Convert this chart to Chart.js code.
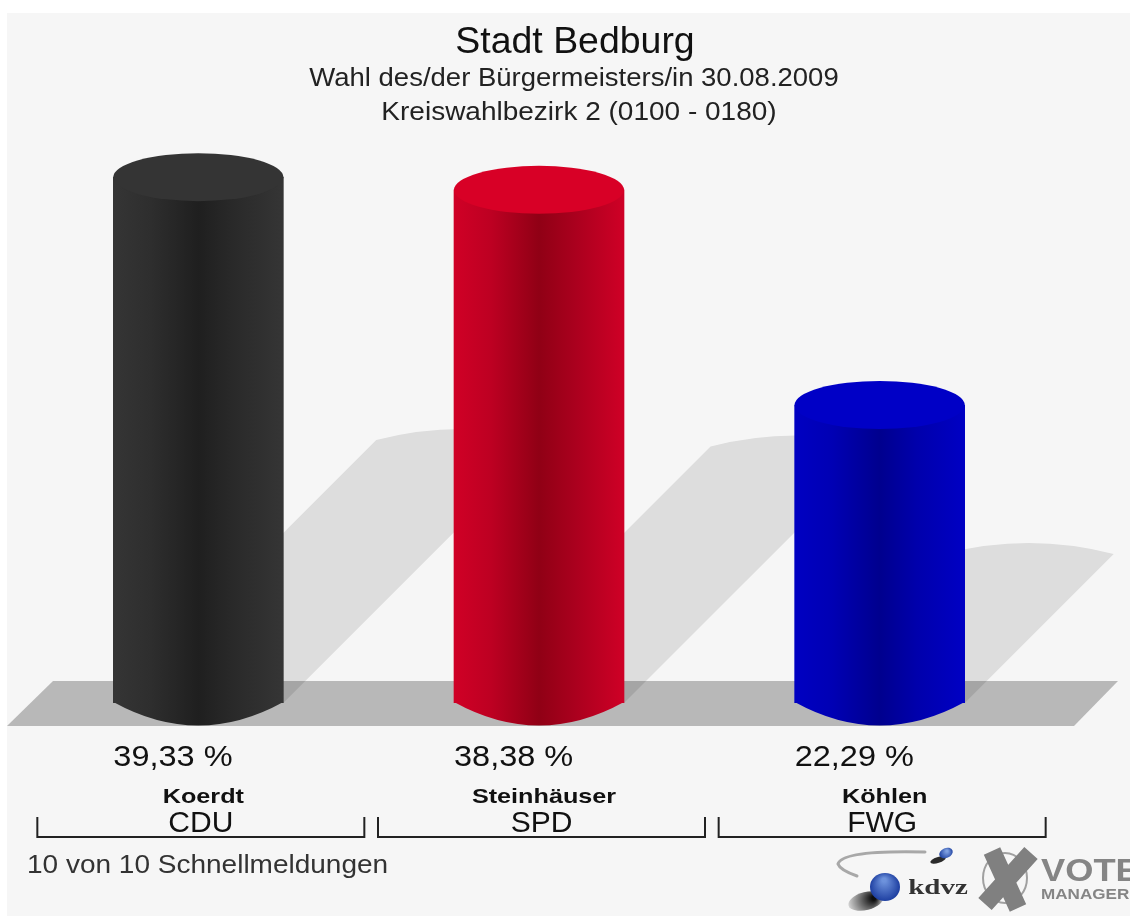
<!DOCTYPE html>
<html>
<head>
<meta charset="utf-8">
<title>Stadt Bedburg</title>
<script src="https://cdn.jsdelivr.net/npm/chart.js@4"></script>
<style>
  html, body { margin: 0; padding: 0; background: #fff; overflow: hidden; }
  canvas { display: block; filter: blur(0.5px); }
</style>
</head>
<body>
<canvas id="barChart" width="1130" height="916"></canvas>
<script>
const parties = ["CDU", "SPD", "FWG"];
const candidates = ["Koerdt", "Steinhäuser", "Köhlen"];
const shares = [39.33, 38.38, 22.29];
const shareLabels = ["39,33 %", "38,38 %", "22,29 %"];
const titleLines = ["Stadt Bedburg", "Wahl des/der Bürgermeisters/in 30.08.2009", "Kreiswahlbezirk 2 (0100 - 0180)"];
const footerText = "10 von 10 Schnellmeldungen";

// side gradient colours: edge, mid, centre, mid, edge
const sideColors = [
  ["#353535", "#2e2e2e", "#1f1f1f", "#2a2a2a", "#353535"],
  ["#d00026", "#bd0022", "#900015", "#ab001e", "#cf0026"],
  ["#0000c2", "#0000b4", "#00008e", "#0000ac", "#0000c4"]
];
const capColors = ["#343434", "#d80026", "#0000c6"];

const FONT = '"Liberation Sans", Arial, sans-serif';
const BAR_WIDTH = 170;
const CAP_RY = 24;

function drawText(ctx, text, x, y, font, stretch, color, align) {
  ctx.save();
  ctx.font = font;
  ctx.fillStyle = color || "#111";
  ctx.textAlign = align || "center";
  ctx.textBaseline = "middle";
  ctx.translate(x, y);
  ctx.scale(stretch, 1);
  ctx.fillText(text, 0, 0);
  ctx.restore();
}

function sideGradient(ctx, centerX, colors) {
  // scale has no pixels yet on the very first option pass
  if (!Number.isFinite(centerX)) return colors[0];
  const left = centerX - BAR_WIDTH / 2;
  const g = ctx.createLinearGradient(left, 0, left + BAR_WIDTH, 0);
  [0, 0.22, 0.5, 0.72, 1].forEach((stop, i) => g.addColorStop(stop, colors[i]));
  return g;
}

// floor and the slanted bar shadows, all below the bars
const sceneBehind = {
  id: "sceneBehind",
  beforeDatasetsDraw(chart) {
    const { ctx } = chart;
    const base = chart.scales.y.getPixelForValue(0);
    ctx.save();
    ctx.fillStyle = "#b8b8b8";
    ctx.beginPath();
    ctx.moveTo(53, base - 22);
    ctx.lineTo(1118, base - 22);
    ctx.lineTo(1074, base + 23);
    ctx.lineTo(7, base + 23);
    ctx.closePath();
    ctx.fill();

    ctx.fillStyle = "rgba(0,0,0,0.1)";
    chart.getDatasetMeta(0).data.forEach(bar => {
      const lift = (base - bar.y) / 2;
      const rx = bar.width / 2;
      ctx.beginPath();
      ctx.moveTo(bar.x - rx, base);
      ctx.lineTo(bar.x - rx + lift, base - lift);
      ctx.quadraticCurveTo(bar.x + lift, base - lift - 22, bar.x + rx + lift, base - lift);
      ctx.lineTo(bar.x + rx, base);
      ctx.closePath();
      ctx.fill();
    });

    // rounded bottoms of the cylinders
    chart.getDatasetMeta(0).data.forEach((bar, i) => {
      ctx.fillStyle = sideGradient(ctx, bar.x, sideColors[i]);
      ctx.beginPath();
      ctx.moveTo(bar.x - bar.width / 2, base - 1);
      ctx.quadraticCurveTo(bar.x, base + 46, bar.x + bar.width / 2, base - 1);
      ctx.closePath();
      ctx.fill();
    });
    ctx.restore();
  }
};

const sceneFront = {
  id: "sceneFront",
  afterDatasetsDraw(chart) {
    const { ctx } = chart;
    chart.getDatasetMeta(0).data.forEach((bar, i) => {
      ctx.save();
      ctx.fillStyle = capColors[i];
      ctx.beginPath();
      ctx.ellipse(bar.x, bar.y, bar.width / 2, CAP_RY, 0, 0, 2 * Math.PI);
      ctx.fill();
      ctx.restore();

      // percent label starts at the left edge of the bar
      drawText(ctx, shareLabels[i], bar.x - bar.width / 2, 758, `29px ${FONT}`, 1.12, "#111", "left");
      drawText(ctx, candidates[i], bar.x + 5, 797, `bold 21px ${FONT}`, 1.2, "#111");

      // bracket under each candidate
      const mid = chart.scales.x.getPixelForTick(i) + 2.5;
      ctx.strokeStyle = "#222";
      ctx.lineWidth = 2;
      ctx.beginPath();
      ctx.moveTo(mid - 163.5, 817);
      ctx.lineTo(mid - 163.5, 837);
      ctx.lineTo(mid + 163.5, 837);
      ctx.lineTo(mid + 163.5, 817);
      ctx.stroke();
    });

    drawText(ctx, titleLines[0], 575, 43, `36px ${FONT}`, 1.04, "#111");
    drawText(ctx, titleLines[1], 574, 79, `25px ${FONT}`, 1.1, "#222");
    drawText(ctx, titleLines[2], 579, 113, `25px ${FONT}`, 1.12, "#222");
    drawText(ctx, footerText, 27, 866, `25px ${FONT}`, 1.12, "#333", "left");
    drawLogos(ctx);
  }
};

function drawLogos(ctx) {
  ctx.save();
  // kdvz swoosh
  ctx.strokeStyle = "#a8a8a8";
  ctx.lineWidth = 3;
  ctx.lineCap = "round";
  ctx.beginPath();
  ctx.moveTo(925, 852);
  ctx.quadraticCurveTo(842, 850, 838, 864);
  ctx.quadraticCurveTo(840, 870, 857, 876);
  ctx.stroke();

  // small sphere
  ctx.fillStyle = "#2a2a2a";
  ctx.beginPath();
  ctx.ellipse(938, 860, 8, 3, -0.3, 0, 2 * Math.PI);
  ctx.fill();
  let g = ctx.createRadialGradient(947, 851, 1, 946, 853, 7);
  g.addColorStop(0, "#7fa0e0");
  g.addColorStop(1, "#1c3f9f");
  ctx.fillStyle = g;
  ctx.beginPath();
  ctx.ellipse(946, 853, 7, 5, -0.4, 0, 2 * Math.PI);
  ctx.fill();

  // big sphere with its shadow
  g = ctx.createRadialGradient(874, 898, 2, 864, 902, 20);
  g.addColorStop(0, "rgba(0,0,0,0.95)");
  g.addColorStop(1, "rgba(0,0,0,0)");
  ctx.fillStyle = g;
  ctx.beginPath();
  ctx.ellipse(866, 901, 18, 9, -0.25, 0, 2 * Math.PI);
  ctx.fill();
  g = ctx.createRadialGradient(884, 880, 2, 885, 887, 16);
  g.addColorStop(0, "#6d92dc");
  g.addColorStop(1, "#17389c");
  ctx.fillStyle = g;
  ctx.beginPath();
  ctx.ellipse(885, 887, 15, 14, 0, 0, 2 * Math.PI);
  ctx.fill();

  drawText(ctx, "kdvz", 938, 889, 'bold 20px "Liberation Serif", serif', 1.45, "#333");

  // crossed circle
  ctx.strokeStyle = "#a0a0a0";
  ctx.lineWidth = 2;
  ctx.beginPath();
  ctx.ellipse(1005, 878, 22, 25, 0, 0, 2 * Math.PI);
  ctx.stroke();
  ctx.strokeStyle = "#808080";
  ctx.lineWidth = 18;
  ctx.lineCap = "butt";
  ctx.beginPath();
  ctx.moveTo(992, 851);
  ctx.lineTo(1018, 908);
  ctx.moveTo(1031, 853);
  ctx.lineTo(985, 904);
  ctx.stroke();

  drawText(ctx, "VOTE", 1041, 872, `bold 31px ${FONT}`, 1.17, "#858585", "left");
  drawText(ctx, "MANAGER", 1041, 895, `bold 15px ${FONT}`, 1.14, "#858585", "left");
  ctx.restore();
}

const paperBackground = {
  id: "paperBackground",
  beforeDraw(chart) {
    const { ctx, width, height } = chart;
    ctx.save();
    ctx.fillStyle = "#f6f6f6";
    ctx.fillRect(7, 13, width - 7, height - 13);
    ctx.restore();
  }
};

new Chart(document.getElementById("barChart").getContext("2d"), {
  type: "bar",
  data: {
    labels: parties,
    datasets: [{
      data: shares,
      barThickness: BAR_WIDTH,
      borderWidth: 0,
      backgroundColor: c => sideGradient(c.chart.ctx, c.chart.scales.x.getPixelForValue(c.dataIndex), sideColors[c.dataIndex])
    }]
  },
  plugins: [paperBackground, sceneBehind, sceneFront],
  options: {
    responsive: false,
    animation: false,
    layout: { padding: { left: 28, right: 80, top: 34.5, bottom: 0 } },
    plugins: { legend: { display: false }, tooltip: { enabled: false }, title: { display: false } },
    scales: {
      y: { display: false, min: 0, max: 50 },
      x: {
        grid: { display: false, drawTicks: false },
        border: { display: false },
        afterFit: scale => { scale.height = 213; },
        ticks: {
          padding: 103,
          labelOffset: 2.5,
          maxRotation: 0,
          color: "#111",
          font: { family: FONT, size: 30 }
        }
      }
    }
  }
});
</script>
</body>
</html>
